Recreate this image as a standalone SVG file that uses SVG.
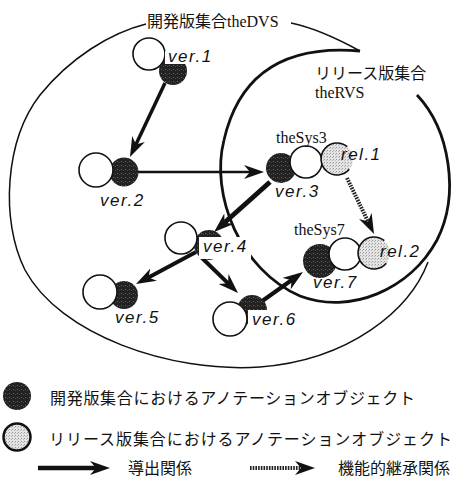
<svg xmlns="http://www.w3.org/2000/svg" width="458" height="483" viewBox="0 0 458 483">
<style>
.v{font-family:"Liberation Sans",Arial,sans-serif;font-style:italic;font-size:17px;letter-spacing:1.5px;fill:#111}
.s{font-family:"Liberation Serif","Times New Roman",serif;font-size:16px;fill:#111}
.j{font-family:"Noto Sans CJK JP",sans-serif;font-size:16px;fill:#111}
.w{fill:#fff;stroke:#111;stroke-width:1.6}
.d{fill:url(#dk)}
.g{fill:url(#lt)}
.o{fill:none;stroke:#111;stroke-width:1.6}
.bg{fill:#fff}
.ar{stroke:#111;fill:none;marker-end:url(#ah)}
.dt{stroke:#222;fill:none;stroke-dasharray:1.6 1.1;marker-end:url(#ah)}
</style>
<defs>
<pattern id="dk" width="4" height="4" patternUnits="userSpaceOnUse"><rect width="4" height="4" fill="#222"/><rect x="1" y="1" width="1" height="1" fill="#666"/><rect x="3" y="2" width="1" height="1" fill="#444"/></pattern>
<pattern id="lt" width="3" height="3" patternUnits="userSpaceOnUse"><rect width="3" height="3" fill="#e4e4e4"/><rect x="0" y="0" width="1" height="1" fill="#9a9a9a"/><rect x="2" y="1" width="1" height="1" fill="#b5b5b5"/></pattern>
<marker id="ah" markerUnits="userSpaceOnUse" markerWidth="22" markerHeight="14" refX="8" refY="7" orient="auto" viewBox="0 0 22 14"><path d="M0,0 L20,7 L0,14 L6,7 z" fill="#111"/></marker>
</defs>

<g id="theDVS">
<path d="M428,262 C410,310 350,360 260,367 C170,373 60,335 25,270 C0,220 5,140 40,95 C70,58 110,33 146,24" fill="none" stroke="#111" stroke-width="1.5"/>
<path d="M291,23 C315,28 340,40 360,51" fill="none" stroke="#111" stroke-width="1.5"/>
<text x="147" y="27"><tspan class="j" font-size="17">開発版集合</tspan><tspan class="s" font-size="17">theDVS</tspan></text>
</g>

<g id="theRVS">
<path d="M360,51 C290,45 240,70 224,140 C210,195 240,270 300,296 C350,315 410,290 437,240 C460,195 450,130 417,95" fill="none" stroke="#111" stroke-width="2.8"/>
<text class="j" x="315" y="79">リリース版集合</text>
<text class="s" x="315" y="98" font-size="17">theRVS</text>
</g>

<g id="connectors">
<line class="ar" x1="165" y1="83" x2="135.1" y2="146.2" stroke-width="3.5"/>
<line class="ar" x1="138" y1="172" x2="252" y2="172" stroke-width="2.5"/>
<line class="ar" x1="270" y1="182" x2="223" y2="224" stroke-width="5"/>
<line class="ar" x1="196" y1="252" x2="146.6" y2="278.4" stroke-width="4"/>
<line class="ar" x1="200" y1="256" x2="229.4" y2="284.6" stroke-width="4"/>
<line class="ar" x1="258" y1="304" x2="293.2" y2="279" stroke-width="4"/>
<line class="dt" x1="347" y1="178" x2="368.8" y2="223.2" stroke-width="4"/>
</g>

<g id="ver1">
<circle class="d" cx="173" cy="71" r="14"/>
<circle class="w" cx="149" cy="54" r="16"/>
<rect class="bg" x="165" y="51" width="50" height="13"/>
<text class="v" x="168" y="62">ver.1</text>
</g>

<g id="ver2">
<circle class="d" cx="124" cy="172" r="14.5"/>
<circle class="w" cx="96" cy="170" r="17"/>
<text class="v" x="100" y="206">ver.2</text>
</g>

<g id="theSys3">
<circle class="d" cx="281" cy="168" r="15"/>
<circle class="w" cx="306" cy="162" r="16"/>
<circle class="g" cx="337" cy="159" r="16"/>
<path class="o" d="M347.3,146.7 A16,16 0 1 0 349.3,169.3"/>
<text class="s" x="276" y="143">theSys3</text>
<text class="v" x="275" y="197">ver.3</text>
<text class="v" x="341" y="160">rel.1</text>
</g>

<g id="ver4">
<circle class="d" cx="209" cy="245" r="15"/>
<circle class="w" cx="181" cy="238" r="16"/>
<rect class="bg" x="199" y="237" width="52" height="22"/>
<text class="v" x="203" y="252">ver.4</text>
</g>

<g id="ver5">
<circle class="d" cx="124" cy="295" r="14"/>
<circle class="w" cx="100" cy="292" r="17"/>
<text class="v" x="115" y="323">ver.5</text>
</g>

<g id="ver6">
<circle class="d" cx="252" cy="310" r="15"/>
<rect class="bg" x="248" y="310" width="50" height="20"/>
<circle class="w" cx="230" cy="319" r="17"/>
<text class="v" x="252" y="325">ver.6</text>
</g>

<g id="theSys7">
<circle class="d" cx="320" cy="261" r="17"/>
<circle class="w" cx="345" cy="254" r="16"/>
<circle class="g" cx="374" cy="253" r="16"/>
<path class="o" d="M384.3,240.7 A16,16 0 1 0 386.3,263.3"/>
<text class="s" x="294" y="235">theSys7</text>
<text class="v" x="313" y="288">ver.7</text>
<text class="v" x="380" y="257">rel.2</text>
</g>

<g id="legend">
<circle class="d" cx="17" cy="396" r="14"/>
<text class="j" x="50" y="404" font-size="16.6" textLength="365" lengthAdjust="spacing">開発版集合におけるアノテーションオブジェクト</text>
<circle class="g" cx="17" cy="437" r="13.5" stroke="#111" stroke-width="2.5"/>
<text class="j" x="49" y="445" font-size="16.6" textLength="403" lengthAdjust="spacing">リリース版集合におけるアノテーションオブジェクト</text>
<line class="ar" x1="38" y1="468" x2="98" y2="468" stroke-width="4.5"/>
<text class="j" x="128" y="474">導出関係</text>
<line class="dt" x1="250" y1="468" x2="303" y2="468" stroke-width="4"/>
<text class="j" x="338" y="474" font-size="16.4">機能的継承関係</text>
</g>
</svg>
